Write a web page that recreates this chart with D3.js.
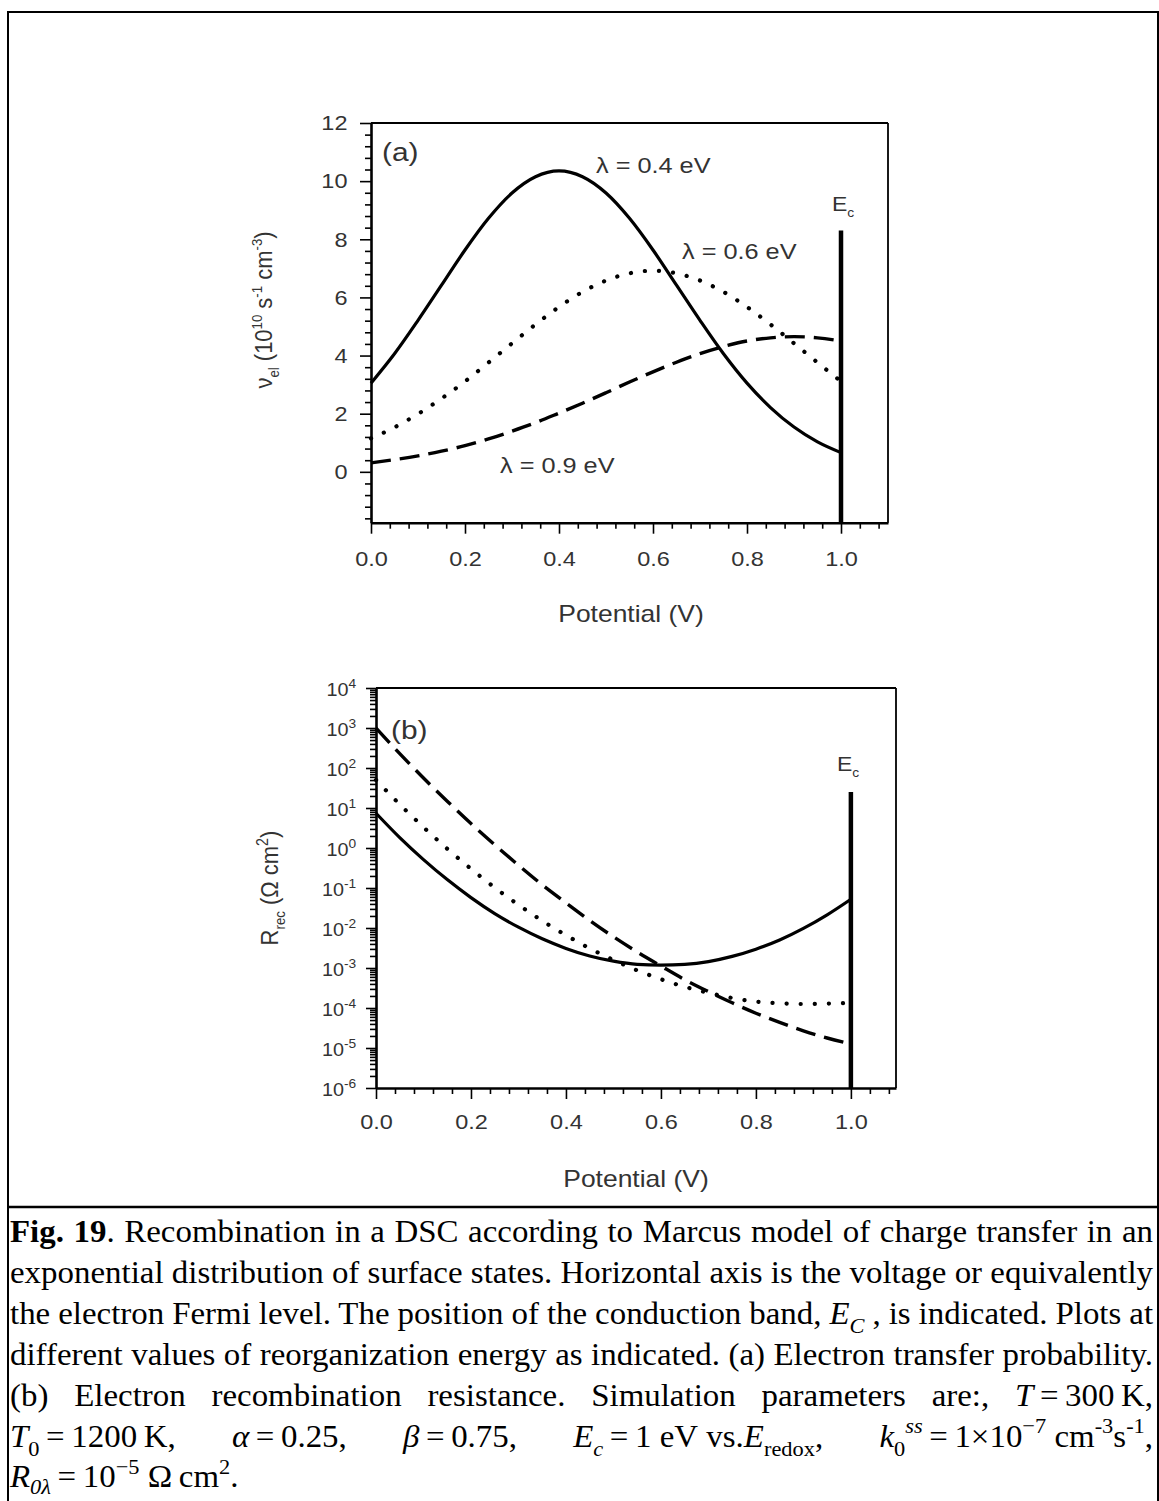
<!DOCTYPE html>
<html><head><meta charset="utf-8">
<script src="https://cdn.jsdelivr.net/npm/d3@7"></script>
<style>
body{margin:0;background:#fff;}
svg{display:block;}
.tk text{font-family:"Liberation Sans",Arial,sans-serif;fill:#333;}
</style></head><body>
<svg id="c" width="1159" height="1501"></svg>
<script>
// ---------- data ----------
const potential = [0,0.05,0.1,0.15,0.2,0.25,0.3,0.35,0.4,0.45,0.5,0.55,0.6,0.65,0.7,0.75,0.8,0.85,0.9,0.95,1.0];
// panel (a): nu_el in 1e10 s^-1 cm^-3
const nu04 = [3.05,4.06,5.21,6.42,7.63,8.72,9.59,10.15,10.35,10.15,9.59,8.72,7.63,6.42,5.21,4.06,3.05,2.21,1.54,1.03,0.66];
const nu06 = [1.15,1.53,1.99,2.52,3.11,3.76,4.42,5.07,5.67,6.19,6.58,6.83,6.92,6.83,6.58,6.19,5.67,5.07,4.42,3.76,3.11];
const nu09 = [0.31,0.42,0.55,0.71,0.90,1.13,1.40,1.69,2.02,2.36,2.72,3.09,3.44,3.77,4.07,4.31,4.50,4.61,4.65,4.61,4.50];
// panel (b): log10 of R_rec (Ohm cm^2)
const logR04 = [0.87,0.26,-0.29,-0.79,-1.24,-1.64,-1.98,-2.27,-2.51,-2.70,-2.83,-2.91,-2.93,-2.91,-2.84,-2.71,-2.53,-2.30,-2.01,-1.67,-1.28];
const logR06 = [1.70,1.09,0.52,-0.02,-0.52,-0.99,-1.42,-1.82,-2.18,-2.51,-2.80,-3.06,-3.28,-3.47,-3.62,-3.75,-3.84,-3.88,-3.90,-3.89,-3.87];
const logR09 = [3.00,2.36,1.75,1.17,0.61,0.08,-0.43,-0.92,-1.37,-1.81,-2.22,-2.60,-2.95,-3.29,-3.59,-3.87,-4.13,-4.36,-4.57,-4.75,-4.90];
// E_c marker
const ecPotential = 1.0;
const ecTopA = 8.3;
const ecTopB = 25;
// ticks
const xTicks = [0,0.2,0.4,0.6,0.8,1.0];
const xTickLabels = ["0.0","0.2","0.4","0.6","0.8","1.0"];
const yTicksA = [0,2,4,6,8,10,12];
const yExponentsB = [-6,-5,-4,-3,-2,-1,0,1,2,3,4];
const lambdaLabels = ["λ = 0.4 eV","λ = 0.6 eV","λ = 0.9 eV"];

const svg = d3.select('#c');
const FONT = '"Liberation Sans",Arial,sans-serif';
const SERIF = '"Liberation Serif","Times New Roman",serif';
const SX = 1.15;

// outer frame
svg.append('path').attr('d','M8,1501 V12 H1158 V1501').attr('fill','none').attr('stroke','#000').attr('stroke-width',2);
svg.append('line').attr('x1',8).attr('x2',1159).attr('y1',1207).attr('y2',1207).attr('stroke','#000').attr('stroke-width',2.5);

function rich(sel, parts, size, subK){
  subK = subK || 0.3;
  let off = 0;
  parts.forEach(p=>{
    const target = p.sub ? size*subK : (p.sup ? -size*0.42 : 0);
    const ts = sel.append('tspan').text(p.t).attr('dy', (target-off).toFixed(2));
    if(p.sub||p.sup) ts.attr('font-size', (size*(p.small||0.68)).toFixed(1));
    if(p.i) ts.attr('font-style','italic');
    if(p.b) ts.attr('font-weight','bold');
    off = target;
  });
}

function minorVals(step, lo, hi, majors){
  const out=[];
  for(let v=lo; v<=hi+1e-9; v+=step){ const r=Math.round(v*1000)/1000; if(!majors.some(m=>Math.abs(m-r)<1e-6)) out.push(r); }
  return out;
}

function drawPanel(cfg){
  const g = svg.append('g');
  const {x,y} = cfg;
  g.append('line').attr('x1',x.range()[0]).attr('x2',x.range()[1]).attr('y1',y.range()[1]).attr('y2',y.range()[1]).attr('stroke','#000').attr('stroke-width',1.8);
  g.append('line').attr('x1',x.range()[1]).attr('x2',x.range()[1]).attr('y1',y.range()[1]).attr('y2',y.range()[0]).attr('stroke','#000').attr('stroke-width',1.8);
  const xa = g.append('g').attr('class','tk').attr('transform',`translate(0,${y.range()[0]})`);
  xa.call(d3.axisBottom(x).tickValues(xTicks).tickFormat((d,i)=>xTickLabels[i]).tickSize(11).tickSizeOuter(0).tickPadding(cfg.xPad));
  xa.selectAll('text').attr('font-size',21).attr('transform',`scale(1.12,1)`);
  const xm = g.append('g').attr('transform',`translate(0,${y.range()[0]})`);
  xm.call(d3.axisBottom(x).tickValues(minorVals(0.04,0.04,x.domain()[1],xTicks)).tickSize(6).tickFormat(''));
  xm.select('.domain').remove();
  const ya = g.append('g').attr('class','tk ytk').attr('transform',`translate(${x.range()[0]},0)`);
  ya.call(cfg.yAxis);
  const ym = g.append('g').attr('transform',`translate(${x.range()[0]},0)`);
  ym.call(d3.axisLeft(y).tickValues(cfg.yMinor).tickSize(6).tickFormat(''));
  ym.select('.domain').remove();
  g.selectAll('.domain').attr('stroke-width',2.6);
  g.selectAll('.tick line').attr('stroke-width',1.6);
  return {g, ya};
}

function label(g,xp,yp,parts,size,anchor,rot,sx){
  sx = sx||SX;
  const t = g.append('text').attr('font-family',FONT).attr('font-size',size).attr('fill','#333')
    .attr('text-anchor',anchor||'start');
  if(rot){ t.attr('transform',`translate(${xp},${yp}) rotate(-90) scale(1,${sx})`); }
  else t.attr('transform',`translate(${xp},${yp}) scale(${sx},1)`);
  rich(t,parts,size);
  return t;
}

const styles = {
  solid:{dash:null,w:3.2,cap:'butt'},
  dot:{dash:'0.1,14',w:4.2,cap:'round'},
  dash:{dash:'20,9',w:3.4,cap:'butt'}
};
function drawCurve(g, gen, data, st){
  const p = g.append('path').attr('d',gen(data)).attr('fill','none').attr('stroke','#000')
    .attr('stroke-width',st.w).attr('stroke-linecap',st.cap).attr('stroke-linejoin','round');
  if(st.dash) p.attr('stroke-dasharray',st.dash);
}

// ---------- panel (a) ----------
const xA = d3.scaleLinear([0,1.1],[371,888]);
const yA = d3.scaleLinear([-1.75,12],[522.7,123]);
const A = drawPanel({x:xA,y:yA,xPad:17,
  yAxis: d3.axisLeft(yA).tickValues(yTicksA).tickSize(11).tickSizeOuter(0).tickPadding(10),
  yMinor: minorVals(0.4,-1.6,11.6,yTicksA)});
A.ya.selectAll('text').attr('font-size',21).attr('transform','scale(1.12,1)');
const gA = A.g;

const lineA = d3.line().x((d,i)=>xA(potential[i])).y(d=>yA(d)).curve(d3.curveMonotoneX);
drawCurve(gA,lineA,nu09,styles.dash);
drawCurve(gA,lineA,nu06,styles.dot);
drawCurve(gA,lineA,nu04,styles.solid);
gA.append('line').attr('x1',xA(ecPotential)).attr('x2',xA(ecPotential)).attr('y1',yA(ecTopA)).attr('y2',yA.range()[0]).attr('stroke','#000').attr('stroke-width',4.5);

label(gA,382,161,[{t:'(a)'}],26);
label(gA,596,173,[{t:lambdaLabels[0]}],22);
label(gA,682,259,[{t:lambdaLabels[1]}],22);
label(gA,500,473,[{t:lambdaLabels[2]}],22);
label(gA,832,211,[{t:'E'},{t:'c',sub:1,small:0.6}],20);
label(gA,631,622,[{t:'Potential (V)'}],23,'middle');
label(gA,272,310,[{t:'ν'},{t:'el',sub:1,small:0.6},{t:' (10'},{t:'10',sup:1,small:0.6},{t:' s'},{t:'-1',sup:1,small:0.6},{t:' cm'},{t:'-3',sup:1,small:0.6},{t:')'}],22,'middle',true,1.1);

// ---------- panel (b) ----------
const xB = d3.scaleLinear([0,1.095],[376,896]);
const yB = d3.scaleLog([1e-6,1e4],[1088,688]);
const minorB = [];
for(let e=-6;e<4;e++) for(let k=2;k<=9;k++) minorB.push(k*Math.pow(10,e));
const B = drawPanel({x:xB,y:yB,xPad:15,
  yAxis: d3.axisLeft(yB).tickValues(yExponentsB.map(e=>Math.pow(10,e))).tickSize(10).tickSizeOuter(0).tickPadding(8).tickFormat(()=>''),
  yMinor: minorB});
const gB = B.g;
B.ya.selectAll('.tick text').each(function(d){
  const e = Math.round(Math.log10(d));
  const t = d3.select(this).text('').attr('font-size',18).attr('dy','0.4em').attr('transform','scale(1.1,1)');
  t.append('tspan').text('10');
  t.append('tspan').text(e).attr('font-size',12.5).attr('dy','-0.62em');
});

const lineB = d3.line().x((d,i)=>xB(potential[i])).y(d=>yB(Math.pow(10,d))).curve(d3.curveMonotoneX);
drawCurve(gB,lineB,logR09,styles.dash);
drawCurve(gB,lineB,logR06,styles.dot);
drawCurve(gB,lineB,logR04,styles.solid);
gB.append('line').attr('x1',xB(ecPotential)).attr('x2',xB(ecPotential)).attr('y1',yB(ecTopB)).attr('y2',yB.range()[0]).attr('stroke','#000').attr('stroke-width',4.5);
label(gB,391,739,[{t:'(b)'}],26);
label(gB,837,771,[{t:'E'},{t:'c',sub:1,small:0.6}],20);
label(gB,636,1187,[{t:'Potential (V)'}],23,'middle');
label(gB,278,888,[{t:'R'},{t:'rec',sub:1,small:0.6},{t:' (Ω cm'},{t:'2',sup:1,small:0.65},{t:')'}],22,'middle',true,1.1);

// ---------- caption ----------
const TH = '\u2009', FS = '\u2005';
const captionLines = [
 [{t:'Fig. 19',b:1},{t:'. Recombination in a DSC according to Marcus model of charge transfer in an'}],
 [{t:'exponential distribution of surface states. Horizontal axis is the voltage or equivalently'}],
 [{t:'the electron Fermi level. The position of the conduction band, '},{t:'E',i:1},{t:'C',i:1,sub:1},{t:' , is indicated. Plots at'}],
 [{t:'different values of reorganization energy as indicated. (a) Electron transfer probability.'}],
 [{t:'(b) Electron recombination resistance. Simulation parameters are:, '},{t:'T',i:1},{t:TH+'='+TH+'300'+TH+'K,'}],
 [{t:'T',i:1},{t:'0',sub:1},{t:TH+'='+TH+'1200'+TH+'K, '},{t:'α',i:1},{t:TH+'='+TH+'0.25, '},{t:'β',i:1},{t:TH+'='+TH+'0.75, '},{t:'E',i:1},{t:'c',i:1,sub:1},{t:TH+'='+TH+'1'+FS+'eV'+FS+'vs.'},{t:'E',i:1},{t:'redox',sub:1},{t:', '},{t:'k',i:1},{t:'0',sub:1},{t:'ss',i:1,sup:1},{t:TH+'='+TH+'1×10'},{t:'−7',sup:1},{t:FS+'cm'},{t:'-3',sup:1},{t:'s'},{t:'-1',sup:1},{t:','}],
 [{t:'R',i:1},{t:'0λ',i:1,sub:1},{t:TH+'='+TH+'10'},{t:'−5',sup:1},{t:FS+'Ω'+TH+'cm'},{t:'2',sup:1},{t:'.'}]
];
const capSize = 31;
const capTexts = captionLines.map((parts,i)=>{
  const t = svg.append('text').attr('font-family',SERIF)
    .attr('font-size',capSize).attr('fill','#000');
  rich(t,parts,capSize, i===captionLines.length-1 ? 0.2 : 0.3);
  return t;
});
const capSX = 1143 / capTexts[1].node().getComputedTextLength();
capTexts.forEach((t,i)=>{
  t.attr('transform',`translate(10,${1242+i*40.9}) scale(${capSX.toFixed(4)},1)`);
  if(i<captionLines.length-1){
    const w = t.node().getComputedTextLength();
    const n = captionLines[i].map(p=>p.t).join('').split(' ').length-1;
    t.attr('word-spacing', ((1143/capSX-w)/n).toFixed(2));
  }
});
</script>
</body></html>
